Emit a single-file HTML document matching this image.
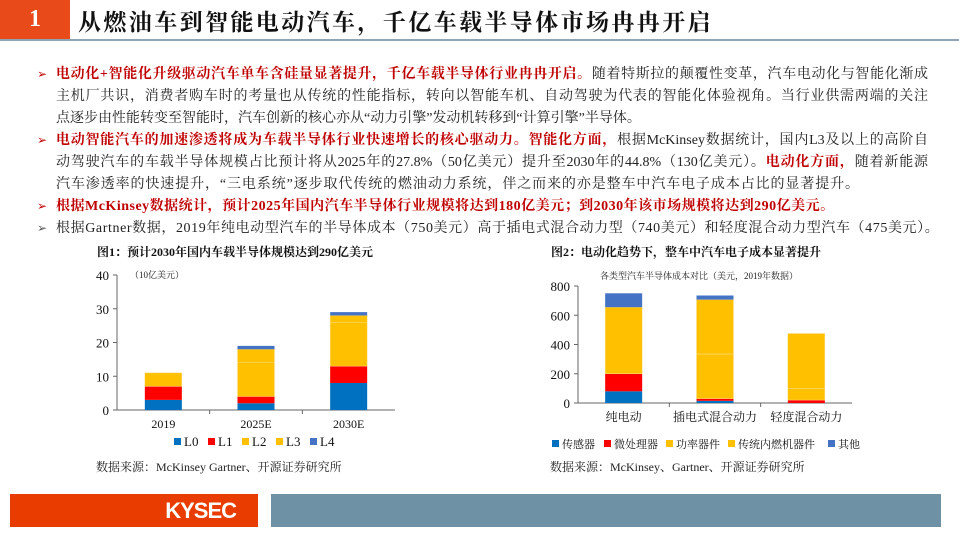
<!DOCTYPE html>
<html><head><meta charset="utf-8"><style>
body{margin:0;width:959px;height:539px;position:relative;background:#fff;font-family:"Liberation Serif","Noto Serif CJK SC",serif;overflow:hidden}
.ln{position:absolute;left:56px;white-space:nowrap;font-size:14px;line-height:20px;color:#222}
.j{width:872px;text-align:justify;text-align-last:justify}
.r{color:#c00000;font-weight:bold}
.bul{position:absolute;left:37px;font-size:12px;color:#c00000}
.bul.g{color:#555}
</style></head><body>
<div style="position:absolute;left:0;top:0;width:70px;height:39px;background:#e84a1a;color:#fff;font-size:24px;font-weight:bold;text-align:center;line-height:39px">1</div>
<div style="position:absolute;left:78px;top:4px;font-size:23px;font-weight:bold;color:#111;font-family:'Noto Serif CJK SC',serif;letter-spacing:2.4px">从燃油车到智能电动汽车，千亿车载半导体市场冉冉开启</div>
<div style="position:absolute;left:0;top:39px;width:959px;height:2px;background:#8fa5b5"></div>

<div>
<span class="bul" style="top:67px">➢</span>
<div class="ln j" style="top:65px"><span class="r">电动化+智能化升级驱动汽车单车含硅量显著提升，千亿车载半导体行业冉冉开启。</span>随着特斯拉的颠覆性变革，汽车电动化与智能化渐成</div>
<div class="ln j" style="top:87px">主机厂共识，消费者购车时的考量也从传统的性能指标，转向以智能车机、自动驾驶为代表的智能化体验视角。当行业供需两端的关注</div>
<div class="ln" style="top:109px">点逐步由性能转变至智能时，汽车创新的核心亦从“动力引擎”发动机转移到“计算引擎”半导体。</div>
</div>
<div>
<span class="bul" style="top:133px">➢</span>
<div class="ln j" style="top:131px"><span class="r">电动智能汽车的加速渗透将成为车载半导体行业快速增长的核心驱动力。智能化方面，</span>根据McKinsey数据统计，国内L3及以上的高阶自</div>
<div class="ln j" style="top:153px">动驾驶汽车的车载半导体规模占比预计将从2025年的27.8%（50亿美元）提升至2030年的44.8%（130亿美元）。<span class="r">电动化方面，</span>随着新能源</div>
<div class="ln" style="top:175px;letter-spacing:0.9px">汽车渗透率的快速提升，“三电系统”逐步取代传统的燃油动力系统，伴之而来的亦是整车中汽车电子成本占比的显著提升。</div>
</div>
<div>
<span class="bul" style="top:199px">➢</span>
<div class="ln" style="top:197px;letter-spacing:0.5px"><span class="r">根据McKinsey数据统计，预计2025年国内汽车半导体行业规模将达到180亿美元；到2030年该市场规模将达到290亿美元。</span></div>
</div>
<div>
<span class="bul g" style="top:221px">➢</span>
<div class="ln" style="top:219px;letter-spacing:0.6px">根据Gartner数据，2019年纯电动型汽车的半导体成本（750美元）高于插电式混合动力型（740美元）和轻度混合动力型汽车（475美元）。</div>
</div>

<svg id="c1" style="position:absolute;left:0;top:0" width="480" height="480"></svg>
<svg id="c2" style="position:absolute;left:480px;top:0" width="479" height="480"></svg>

<div style="position:absolute;left:10px;top:494px;width:248px;height:33px;background:#e83c00;color:#fff;font-family:'Liberation Sans',sans-serif;font-weight:bold;font-size:22px;line-height:33px;text-align:right;box-sizing:border-box;padding-right:22px;letter-spacing:-1px">KYSEC</div>
<div style="position:absolute;left:271px;top:494px;width:670px;height:33px;background:#6e91a5"></div>

<script>
const NS='http://www.w3.org/2000/svg';
function mk(p,t,a,txt){const e=document.createElementNS(NS,t);for(const k in a)e.setAttribute(k,a[k]);if(txt!==undefined)e.textContent=txt;p.appendChild(e);return e;}
// Chart 1 data
const c1Cats=['2019','2025E','2030E'];
const c1Series=['L0','L1','L2','L3','L4'];
const c1L0=[3,2,8];
const c1L1=[4,2,5];
const c1L2=[0,10,13];
const c1L3=[4,4,2];
const c1L4=[0,1,1];
const c1Ticks=[0,10,20,30,40];
// Chart 2 data
const c2Cats=['纯电动','插电式混合动力','轻度混合动力'];
const c2Series=['传感器','微处理器','功率器件','传统内燃机器件','其他'];
const c2Sensor=[80,15,0];
const c2Micro=[120,15,20];
const c2Power=[455,305,80];
const c2Ice=[0,372,375];
const c2Other=[95,28,0];
const c2Ticks=[0,200,400,600,800];
const colors=['#0070c0','#ff0000','#ffc000','#ffc000','#4472c4'];

function drawChart(svg,o){
  const y=v=>o.y0-(v/o.max)*(o.y0-o.yTop);
  mk(svg,'text',{x:o.titleX,y:o.titleY,'font-size':12,'font-weight':'bold',fill:'#111'},o.title);
  if(o.sub){const s=mk(svg,'text',{x:o.subX,y:o.subY,'font-size':9,fill:'#222'},o.sub);}
  o.ticks.forEach(t=>{
    const tl=mk(svg,'text',{x:o.x0-8,y:y(t)+5,'font-size':13,'text-anchor':'end',fill:'#111'},t);
    
    mk(svg,'line',{x1:o.x0-4,x2:o.x0,y1:y(t),y2:y(t),stroke:'#666'});
  });
  mk(svg,'line',{x1:o.x0,x2:o.x0,y1:o.yTop,y2:o.y0,stroke:'#666'});
  mk(svg,'line',{x1:o.x0,x2:o.x1,y1:o.y0,y2:o.y0,stroke:'#666'});
  const n=o.cats.length,step=(o.x1-o.x0)/n;
  for(let i=1;i<n;i++)mk(svg,'line',{x1:o.x0+step*i,x2:o.x0+step*i,y1:o.y0,y2:o.y0+4,stroke:'#666'});
  o.cats.forEach((c,i)=>{
    const cx=o.x0+step*(i+0.5);let acc=0;
    o.data.forEach((arr,s)=>{
      const v=arr[i];if(v<=0)return;
      const r=mk(svg,'rect',{x:cx-o.bw/2,y:y(acc+v),width:o.bw,height:y(acc)-y(acc+v),fill:colors[s],stroke:colors[s]===colors[2]?'#ffe08a':'none','stroke-width':0.5});
      
      acc+=v;
    });
    const cl=mk(svg,'text',{x:cx,y:o.y0+18,'font-size':o.catFs,'text-anchor':'middle',fill:'#111'},c);
    
  });
  let lx=o.legX;
  o.series.forEach((s,i)=>{
    const g=mk(svg,'g',{});
    
    mk(g,'rect',{x:lx,y:o.legY-8,width:7,height:7,fill:colors[i]});
    mk(g,'text',{x:lx+10,y:o.legY,'font-size':o.legFs,fill:'#111'},s);
    lx+=o.legGap[i];
  });
  const src=mk(svg,'text',{x:o.srcX,y:o.srcY,'font-size':12,fill:'#222'},o.src);
  
}
drawChart(document.getElementById('c1'),{key:'c1',title:'图1：预计2030年国内车载半导体规模达到290亿美元',titleX:97,titleY:256,sub:'（10亿美元）',subX:130,subY:278,
  x0:117,x1:395,y0:410,yTop:275,max:40,ticks:c1Ticks,cats:c1Cats,data:[c1L0,c1L1,c1L2,c1L3,c1L4],series:c1Series,bw:37,catFs:12,
  legX:174,legY:446,legFs:13,legGap:[34,34,34,34,34],src:'数据来源：McKinsey  Gartner、开源证券研究所',srcX:96,srcY:471});
drawChart(document.getElementById('c2'),{key:'c2',title:'图2：电动化趋势下，整车中汽车电子成本显著提升',titleX:71,titleY:256,sub:'各类型汽车半导体成本对比（美元，2019年数据）',subX:120,subY:279,
  x0:98,x1:372,y0:403,yTop:286,max:800,ticks:c2Ticks,cats:c2Cats,data:[c2Sensor,c2Micro,c2Power,c2Ice,c2Other],series:c2Series,bw:37,catFs:12,
  legX:72,legY:448,legFs:11,legGap:[52,62,62,100,40],src:'数据来源：McKinsey、Gartner、开源证券研究所',srcX:70,srcY:471});
</script>
</body></html>
